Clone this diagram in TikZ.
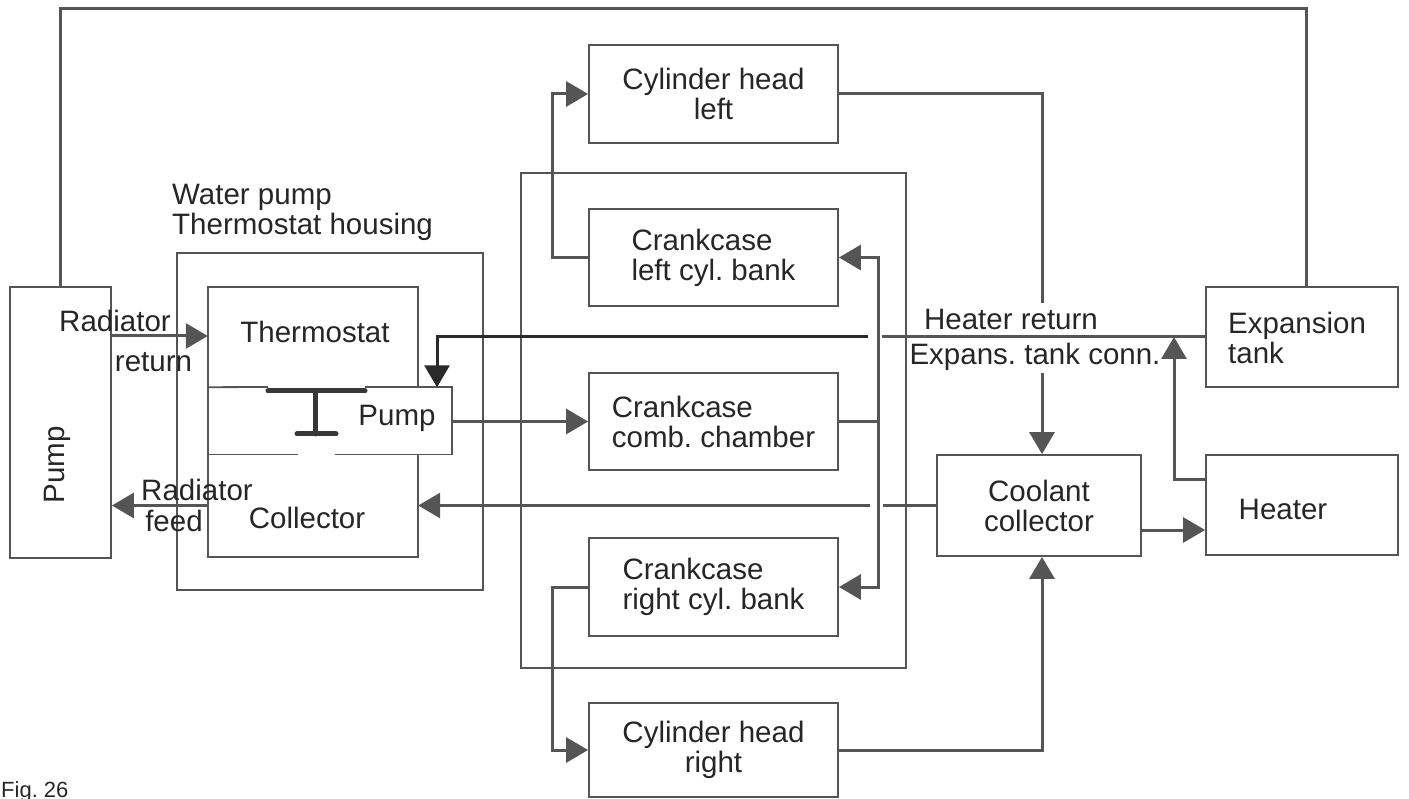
\documentclass[tikz,border=0pt]{standalone}
\usepackage{fontspec}
\setmainfont{Liberation Sans}
\usetikzlibrary{arrows.meta}
\definecolor{ln}{HTML}{555555}
\definecolor{dk}{HTML}{2a2a2a}
\definecolor{tx}{HTML}{262626}
\newcommand{\bigf}{\fontsize{29.5}{30}\selectfont}
\frenchspacing
\begin{document}
\begin{tikzpicture}[x=1pt,y=-1pt,
  box/.style={draw=ln, line width=1.8pt, inner sep=0pt, font=\bigf, text=tx},
  area/.style={inner sep=0pt},
  lbl/.style={font=\bigf, text=tx, inner sep=0pt},
  boxline/.style={draw=ln, line width=1.8pt},
  conn/.style={draw=ln, line width=3pt},
  arr/.style={conn, -{Triangle[length=22pt,width=25pt]}},
  valve/.style={draw=dk!70!ln, line width=5pt, line cap=round}]
\useasboundingbox (0,0) rectangle (1409,799);

% housing and engine block
\node[box, minimum width=306pt, minimum height=337pt] (housing) at (330,421.5) {};
\node[lbl, anchor=west, align=left] (housingt) at (172,212) {Water pump\\Thermostat housing};
\node[box, minimum width=385pt, minimum height=495pt] (engine) at (713.5,420.5) {};

% left pump
\node[box, minimum width=101pt, minimum height=271pt] (pumpL) at (60.5,422.5) {};
\node[lbl, rotate=90] (pumpLt) at (57,465) {Pump};

% thermostat housing internals
\node[area, minimum width=210pt, minimum height=100pt] (thermo) at (313,337) {};
\node[area, minimum width=244pt, minimum height=67pt] (pumpI) at (330,421) {};
\node[area, minimum width=210pt, minimum height=103pt] (coll) at (313,505.5) {};
\draw[boxline] (thermo.south east) -- (thermo.north east) -- (thermo.north west) -- (coll.south west) -- (coll.south east) -- (coll.north east);
\draw[boxline] (thermo.south west) -- (268,387);
\draw[boxline] (365,387) -- (418,387) -- (452,387) -- (452,454.5) -- (335,454.5);
\draw[boxline] (298,454.5) -- (208,454.5);
\draw[valve] (268,391) -- (365,391);
\draw[valve] (315,391) -- (315,434);
\draw[valve] (297,434) -- (336,434);
\node[lbl] (thermot) at (315,332) {Thermostat};
\node[lbl] (pumpIt) at (397,418) {Pump};
\node[lbl] (collt) at (307,518) {Collector};

% engine boxes
\node[box, minimum width=249pt, minimum height=98pt, align=center] (chl) at (713.5,94) {Cylinder head\\left};
\node[box, minimum width=249pt, minimum height=97pt, align=left] (ckl) at (713.5,257.5) {Crankcase\\left cyl. bank};
\node[box, minimum width=249pt, minimum height=97pt, align=left] (ckc) at (713.5,421.5) {Crankcase\\comb. chamber};
\node[box, minimum width=249pt, minimum height=98pt, align=left] (ckr) at (713.5,587) {Crankcase\\right cyl. bank};
\node[box, minimum width=249pt, minimum height=94pt, align=center] (chr) at (713.5,750) {Cylinder head\\right};

% right boxes
\node[box, minimum width=204pt, minimum height=101pt, align=center] (cc) at (1039,505.5) {Coolant\\collector};
\node[box, minimum width=192pt, minimum height=100pt] (exp) at (1302,337) {};
\node[lbl, anchor=west, align=left] (expt) at (1228,338) {Expansion\\tank};
\node[box, minimum width=192pt, minimum height=100pt] (heat) at (1302,505) {};
\node[lbl] (heatt) at (1283,509) {Heater};

% labels
\node[lbl] (rad1) at (115,321) {Radiator};
\node[lbl] (ret) at (153.5,362) {return};
\node[lbl] (rad2) at (197,490) {Radiator};
\node[lbl] (feed) at (174,521) {feed};
\node[lbl] (hret) at (1011,319) {Heater return};
\node[lbl] (etc) at (1035,357) {Expans. tank conn.};
\node[font=\fontsize{22}{22}\selectfont, text=tx, anchor=base west, inner sep=0pt] (fig) at (1,797) {Fig. 26};

% coordinates
\coordinate (rr) at (0,336);
\coordinate (hrA) at (882,337);
\coordinate (hrB) at (868,337);
\coordinate (hrC) at (437,337);
\coordinate (bus) at (878,421.5);
\coordinate (v1) at (1042,303);
\coordinate (v2) at (1042,373);
\coordinate (c2h) at (0,530);
\coordinate (hx) at (1174,480);
\coordinate (t1) at (60,9);
\coordinate (t2) at (1306,9);
\coordinate (b1) at (883,505.5);
\coordinate (b2) at (870,505.5);

% connectors
\draw[arr] (pumpL.east |- rr) -- (thermo.west |- rr);
\draw[arr] (coll.west) -- (pumpL.east |- coll.west);
\draw[conn] (exp.west) -- (hrA);
\draw[arr, draw=dk] (hrB) -- (hrC) -- (pumpI.north -| hrC);
\draw[arr] (pumpI.east |- ckc.west) -- (ckc.west);
\draw[conn] (ckc.east) -- (bus);
\draw[arr] (bus) |- (ckl.east);
\draw[arr] (bus) |- (ckr.east);
\draw[arr] (ckl.west) -- ++(-36,0) |- (chl.west);
\draw[conn] (chl.east) -| (v1);
\draw[arr] (v2) -- (v2 |- cc.north);
\draw[arr] (ckr.west) -- ++(-36,0) |- (chr.west);
\draw[arr] (chr.east) -| (v1 |- cc.south);
\draw[arr] (cc.east |- c2h) -- (heat.west |- c2h);
\draw[arr] (heat.west |- hx) -- (hx) -- (hx |- exp.west);
\draw[conn] (pumpL.north -| t1) -- (t1) -- (t2) -- (exp.north -| t2);
\draw[conn] (cc.west) -- (b1);
\draw[arr] (b2) -- (coll.east);
\end{tikzpicture}
\end{document}
